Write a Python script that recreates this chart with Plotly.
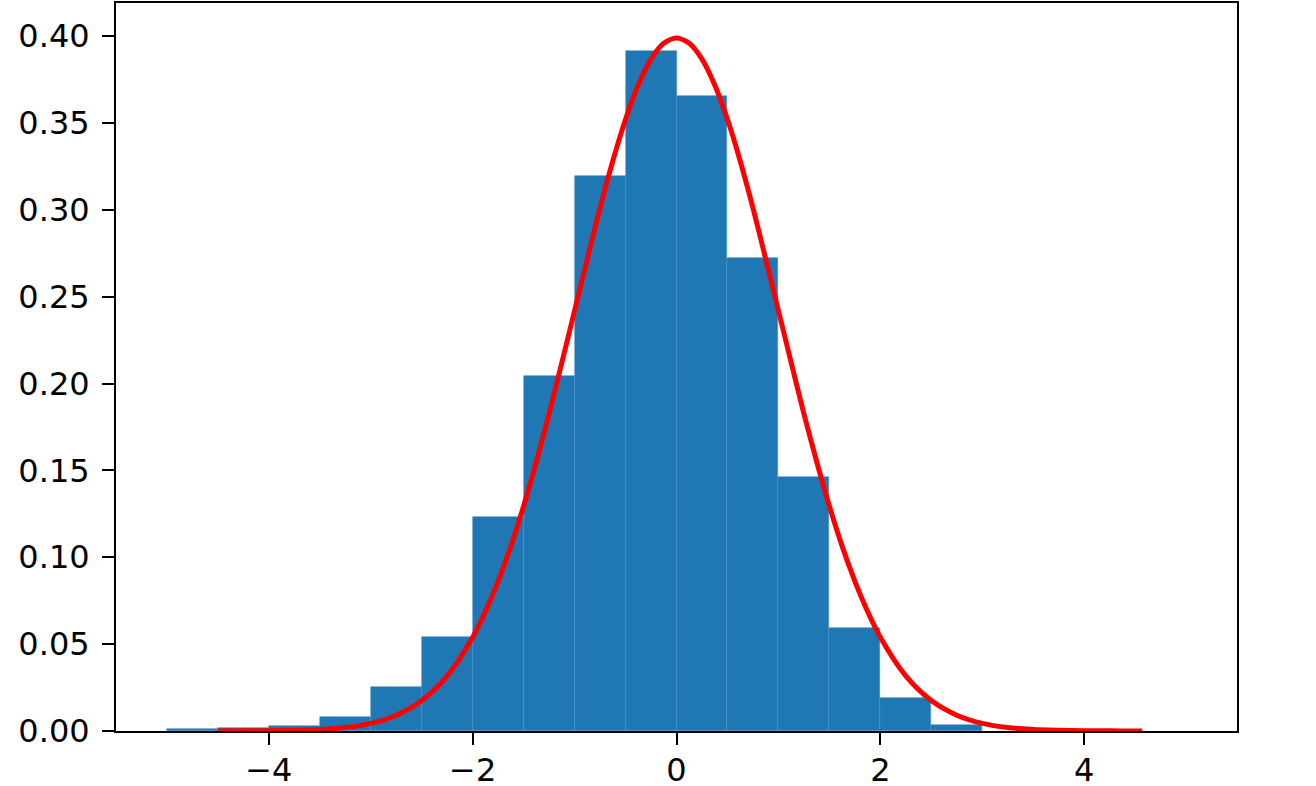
import plotly.graph_objects as go

# Histogram (density)
bin_edges = [-5.0, -4.5, -4.0, -3.5, -3.0, -2.5, -2.0, -1.5, -1.0, -0.5, 0.0,
             0.5, 1.0, 1.5, 2.0, 2.5, 3.0]
density = [0.001, 0.002, 0.003, 0.008, 0.0253, 0.054, 0.1232, 0.2042, 0.3195,
           0.3914, 0.3655, 0.272, 0.1462, 0.0594, 0.019, 0.0033]

# Red curve, values
curve_x = [-4.5, -4.25, -4.0, -3.75, -3.5, -3.25, -3.0, -2.75, -2.5, -2.25,
           -2.0, -1.875, -1.75, -1.625, -1.5, -1.375, -1.25, -1.125,
           -1.0, -0.875, -0.75, -0.625, -0.5, -0.375, -0.25, -0.125,
           0.0, 0.125, 0.25, 0.375, 0.5, 0.625, 0.75, 0.875,
           1.0, 1.125, 1.25, 1.375, 1.5, 1.625, 1.75, 1.875,
           2.0, 2.25, 2.5, 2.75, 3.0, 3.25, 3.5, 3.75, 4.0, 4.25, 4.5, 4.57]
curve_y = [0.0000, 0.0001, 0.0001, 0.0004, 0.0009, 0.0020, 0.0044, 0.0091, 0.0175, 0.0317,
           0.0540, 0.0688, 0.0863, 0.1064, 0.1295, 0.1551, 0.1826, 0.2121,
           0.2420, 0.2717, 0.3011, 0.3281, 0.3521, 0.3718, 0.3867, 0.3958,
           0.3989, 0.3958, 0.3867, 0.3718, 0.3521, 0.3281, 0.3011, 0.2717,
           0.2420, 0.2121, 0.1826, 0.1551, 0.1295, 0.1064, 0.0863, 0.0688,
           0.0540, 0.0317, 0.0175, 0.0091, 0.0044, 0.0020, 0.0009, 0.0004, 0.0001, 0.0001, 0.0000, 0.0000]

x_ticks = [-4, -2, 0, 2, 4]
x_ticklabels = ["\u22124", "\u22122", "0", "2", "4"]
y_ticks = [0.0, 0.05, 0.10, 0.15, 0.20, 0.25, 0.30, 0.35, 0.40]
y_ticklabels = ["0.00", "0.05", "0.10", "0.15", "0.20", "0.25", "0.30", "0.35", "0.40"]

lefts = bin_edges[:-1]
widths = [b - a for a, b in zip(bin_edges[:-1], bin_edges[1:])]
centers = [a + w / 2 for a, w in zip(lefts, widths)]

fig = go.Figure()
fig.add_trace(go.Bar(
    x=centers, y=density, width=widths,
    marker=dict(color="#1f77b4", line=dict(color="#4a90c4", width=0.6)),
    showlegend=False, hoverinfo="x+y",
))
fig.add_trace(go.Scatter(
    x=curve_x, y=curve_y, mode="lines",
    line=dict(color="red", width=5, shape="spline", smoothing=0.8),
    showlegend=False,
))

axis_common = dict(
    showgrid=False, zeroline=False, showline=True, linecolor="black",
    linewidth=2, mirror=True, ticks="outside", ticklen=12, tickwidth=2,
    tickcolor="black", automargin=False,
    tickfont=dict(family="DejaVu Sans", size=32, color="black"),
)

fig.update_layout(
    width=1316, height=786,
    margin=dict(l=116, r=79, t=3, b=55),
    paper_bgcolor="white", plot_bgcolor="white",
    bargap=0,
    xaxis=dict(range=[-5.5, 5.5], tickvals=x_ticks, ticktext=x_ticklabels,
               ticklabelstandoff=-2, **axis_common),
    yaxis=dict(range=[0, 0.419], tickvals=y_ticks, ticktext=y_ticklabels,
               ticklabelstandoff=6, **axis_common),
)

fig.write_html(
    "out.html",
    config={"displayModeBar": False},
    post_script="document.body.style.margin='0px';document.body.style.overflow='hidden';",
)
